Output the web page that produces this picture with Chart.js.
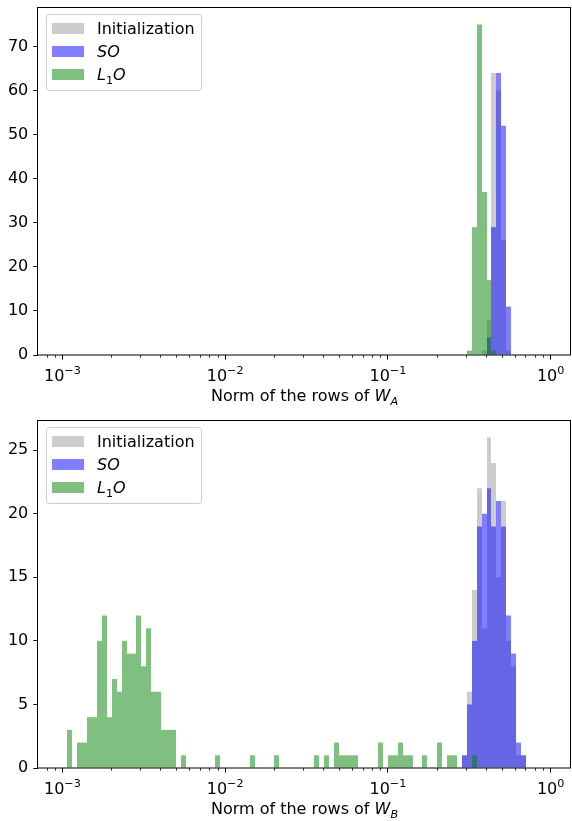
<!DOCTYPE html>
<html>
<head>
<meta charset="utf-8">
<script src="https://cdn.jsdelivr.net/npm/chart.js@4/dist/chart.umd.min.js"></script>
<style>
  html, body { margin: 0; padding: 0; background: #ffffff; }
  #wrap { position: relative; width: 572px; height: 821px; overflow: hidden; }
  canvas { position: absolute; left: 0; }
</style>
</head>
<body>
<div id="wrap">
  <canvas id="chartA" width="572" height="410" style="top:0px"></canvas>
  <canvas id="chartB" width="572" height="411" style="top:410px"></canvas>
</div>
<script>
// Histogram bins: 99 logarithmic bins from 1e-3 to 1
const BIN_EXP_MIN = -3;
const BIN_EXP_MAX = 0;
const BIN_COUNT = 99;

// Major ticks on the (shared) logarithmic x axis
const xTicks = [1e-3, 1e-2, 1e-1, 1];

// Row norms of W_A: counts per bin, first entry is bin wA_start
const wA_start = 82;
const wA_init = [0, 0, 0, 1, 8, 64, 60, 26, 1];
const wA_so   = [0, 0, 0, 0, 4, 29, 64, 52, 11];
const wA_l1o  = [1, 29, 75, 37, 17, 1, 0, 0, 0];
const yTicksA = [0, 10, 20, 30, 40, 50, 60, 70];

// Row norms of W_B
const wB_init_start = 81;
const wB_init = [1, 6, 14, 22, 11, 26, 24, 15, 21, 10, 8, 1, 1];
const wB_so_start = 81;
const wB_so   = [1, 5, 10, 19, 20, 22, 19, 21, 19, 12, 9, 2, 1];
const wB_l1o_start = 1;
const wB_l1o  = [
  3, 0, 2, 2, 4, 4, 10, 12, 4, 7,
  6, 10, 9, 9, 12, 8, 11, 6, 6, 3,
  3, 3, 0, 1, 0, 0, 0, 0, 0, 0,
  1, 0, 0, 0, 0, 0, 0, 1, 0, 0,
  0, 0, 1, 0, 0, 0, 0, 0, 0, 0,
  1, 0, 1, 0, 2, 1, 1, 1, 1, 0,
  0, 0, 0, 2, 0, 1, 1, 2, 1, 1,
  0, 0, 1, 0, 0, 2, 0, 1, 1, 0,
  0, 0, 1
];
const yTicksB = [0, 5, 10, 15, 20, 25];

const seriesLabels = ['Initialization', 'SO', 'L1O'];
const COLOR_INIT = 'rgba(128,128,128,0.4)';
const COLOR_SO   = 'rgba(0,0,255,0.5)';
const COLOR_L1O  = 'rgba(0,128,0,0.5)';

const FONT = '"DejaVu Sans", sans-serif';
const FS = 16;
const X_MIN = Math.pow(10, -3.15);
const X_MAX = Math.pow(10, 0.125);

function binCenter(k) {
  const step = (BIN_EXP_MAX - BIN_EXP_MIN) / BIN_COUNT;
  return Math.pow(10, BIN_EXP_MIN + (k + 0.5) * step);
}
function toPoints(start, counts) {
  return counts.map((c, i) => ({ x: binCenter(start + i), y: c }));
}

// Text made of plain / italic / subscript / superscript runs (math-style labels)
function drawRuns(ctx, runs, x, y, align) {
  const parts = runs.map(r => {
    const small = r.sub || r.sup;
    const size = small ? FS * 0.7 : FS;
    const font = (r.it ? 'italic ' : '') + size + 'px ' + FONT;
    ctx.font = font;
    return { t: r.t, sub: r.sub, sup: r.sup, font: font, w: ctx.measureText(r.t).width };
  });
  const total = parts.reduce((s, p) => s + p.w, 0);
  let cx = align === 'center' ? x - total / 2 : x;
  ctx.textAlign = 'left';
  ctx.textBaseline = 'alphabetic';
  ctx.fillStyle = '#000000';
  for (const p of parts) {
    ctx.font = p.font;
    const dy = p.sub ? FS * 0.24 : (p.sup ? -FS * 0.42 : 0);
    ctx.fillText(p.t, cx, y + dy);
    cx += p.w;
  }
}

const legendRuns = [
  [{ t: 'Initialization' }],
  [{ t: 'SO', it: true }],
  [{ t: 'L', it: true }, { t: '1', sub: true }, { t: 'O', it: true }]
];
const legendColors = [COLOR_INIT, COLOR_SO, COLOR_L1O];

// Round bar edges to whole pixels so neighbouring bins tile cleanly
const snapBars = {
  id: 'snapBars',
  afterDatasetsUpdate(chart) {
    chart.data.datasets.forEach((ds, i) => {
      chart.getDatasetMeta(i).data.forEach(bar => {
        const l = Math.round(bar.x - bar.width / 2);
        const r = Math.round(bar.x + bar.width / 2);
        bar.x = (l + r) / 2;
        bar.width = r - l;
      });
    });
  }
};

// Axes box, minor log ticks, power-of-ten tick labels, x-axis title and legend
const decorations = {
  id: 'decorations',
  afterDraw(chart, args, opts) {
    const ctx = chart.ctx;
    const a = chart.chartArea;
    const xs = chart.scales.x;
    ctx.save();
    // minor ticks
    ctx.strokeStyle = '#000000';
    ctx.lineWidth = 0.8;
    for (let e = -4; e <= 0; e++) {
      for (let m = 2; m <= 9; m++) {
        const v = m * Math.pow(10, e);
        if (v <= xs.min || v >= xs.max) continue;
        const px = Math.round(xs.getPixelForValue(v)) + 0.5;
        ctx.beginPath();
        ctx.moveTo(px, a.bottom);
        ctx.lineTo(px, a.bottom + 2.7);
        ctx.stroke();
      }
    }
    // frame
    ctx.lineWidth = 1;
    ctx.strokeRect(a.left - 0.5, a.top - 0.5, a.right - a.left, a.bottom - a.top + 0.5);
    // x tick labels as 10^k
    xs.ticks.forEach(t => {
      const k = Math.round(Math.log10(t.value));
      const expo = (k < 0 ? '\u2212' : '') + Math.abs(k);
      drawRuns(ctx, [{ t: '10' }, { t: expo, sup: true }], xs.getPixelForValue(t.value), a.bottom + 26, 'center');
    });
    // x-axis title
    drawRuns(ctx, opts.title, (a.left + a.right) / 2, a.bottom + 46, 'center');
    // legend
    const lx = a.left + 8, ly = a.top + 6, lw = 155, lh = 76;
    ctx.beginPath();
    ctx.roundRect(lx + 0.5, ly + 0.5, lw, lh, 3);
    ctx.fillStyle = 'rgba(255,255,255,0.8)';
    ctx.fill();
    ctx.strokeStyle = '#cccccc';
    ctx.lineWidth = 1;
    ctx.stroke();
    for (let i = 0; i < legendRuns.length; i++) {
      const cy = ly + 14 + i * 23;
      ctx.fillStyle = legendColors[i];
      ctx.fillRect(lx + 6, Math.round(cy - 5.5), 32, 11);
      drawRuns(ctx, legendRuns[i], lx + 51, cy + 6, 'left');
    }
    ctx.restore();
  }
};

function makeChart(id, sets, yTicks, padTop, xAxisHeight, title) {
  const yMax = Math.max(...sets.flatMap(s => s.counts)) * 1.05;
  return new Chart(document.getElementById(id), {
    type: 'bar',
    data: {
      datasets: sets.map((s, i) => ({
        label: seriesLabels[i],
        data: toPoints(s.start, s.counts),
        backgroundColor: legendColors[i],
        borderWidth: 0,
        grouped: false,
        categoryPercentage: 1,
        barPercentage: 1,
        inflateAmount: 0,
        order: 3 - i
      }))
    },
    options: {
      responsive: false,
      animation: false,
      devicePixelRatio: 1,
      events: [],
      layout: { padding: { left: 0, right: 1, top: padTop, bottom: 0 } },
      plugins: {
        legend: { display: false },
        tooltip: { enabled: false },
        decorations: { title: title }
      },
      scales: {
        x: {
          type: 'logarithmic',
          min: X_MIN,
          max: X_MAX,
          offset: false,
          grid: { offset: false, drawOnChartArea: false, drawTicks: true, tickLength: 4.7, color: '#000000', lineWidth: 1 },
          border: { display: false },
          afterBuildTicks: s => { s.ticks = xTicks.map(v => ({ value: v })); },
          afterFit: s => { s.height = xAxisHeight; s.paddingLeft = 0; s.paddingRight = 0; },
          ticks: { display: false, autoSkip: false, maxRotation: 0 }
        },
        y: {
          type: 'linear',
          min: 0,
          max: yMax,
          grid: { drawOnChartArea: false, drawTicks: true, tickLength: 4.7, color: '#000000', lineWidth: 1 },
          border: { display: false },
          afterBuildTicks: s => { s.ticks = yTicks.map(v => ({ value: v })); },
          afterFit: s => { s.width = 38; s.paddingTop = 0; s.paddingBottom = 0; },
          ticks: {
            padding: 5,
            color: '#000000',
            font: { family: FONT, size: FS }
          }
        }
      }
    },
    plugins: [snapBars, decorations]
  });
}

makeChart('chartA', [
  { start: wA_start, counts: wA_init },
  { start: wA_start, counts: wA_so },
  { start: wA_start, counts: wA_l1o }
], yTicksA, 8, 55,
  [{ t: 'Norm of the rows of ' }, { t: 'W', it: true }, { t: 'A', it: true, sub: true }]);

makeChart('chartB', [
  { start: wB_init_start, counts: wB_init },
  { start: wB_so_start, counts: wB_so },
  { start: wB_l1o_start, counts: wB_l1o }
], yTicksB, 11, 53,
  [{ t: 'Norm of the rows of ' }, { t: 'W', it: true }, { t: 'B', it: true, sub: true }]);
</script>
</body>
</html>
